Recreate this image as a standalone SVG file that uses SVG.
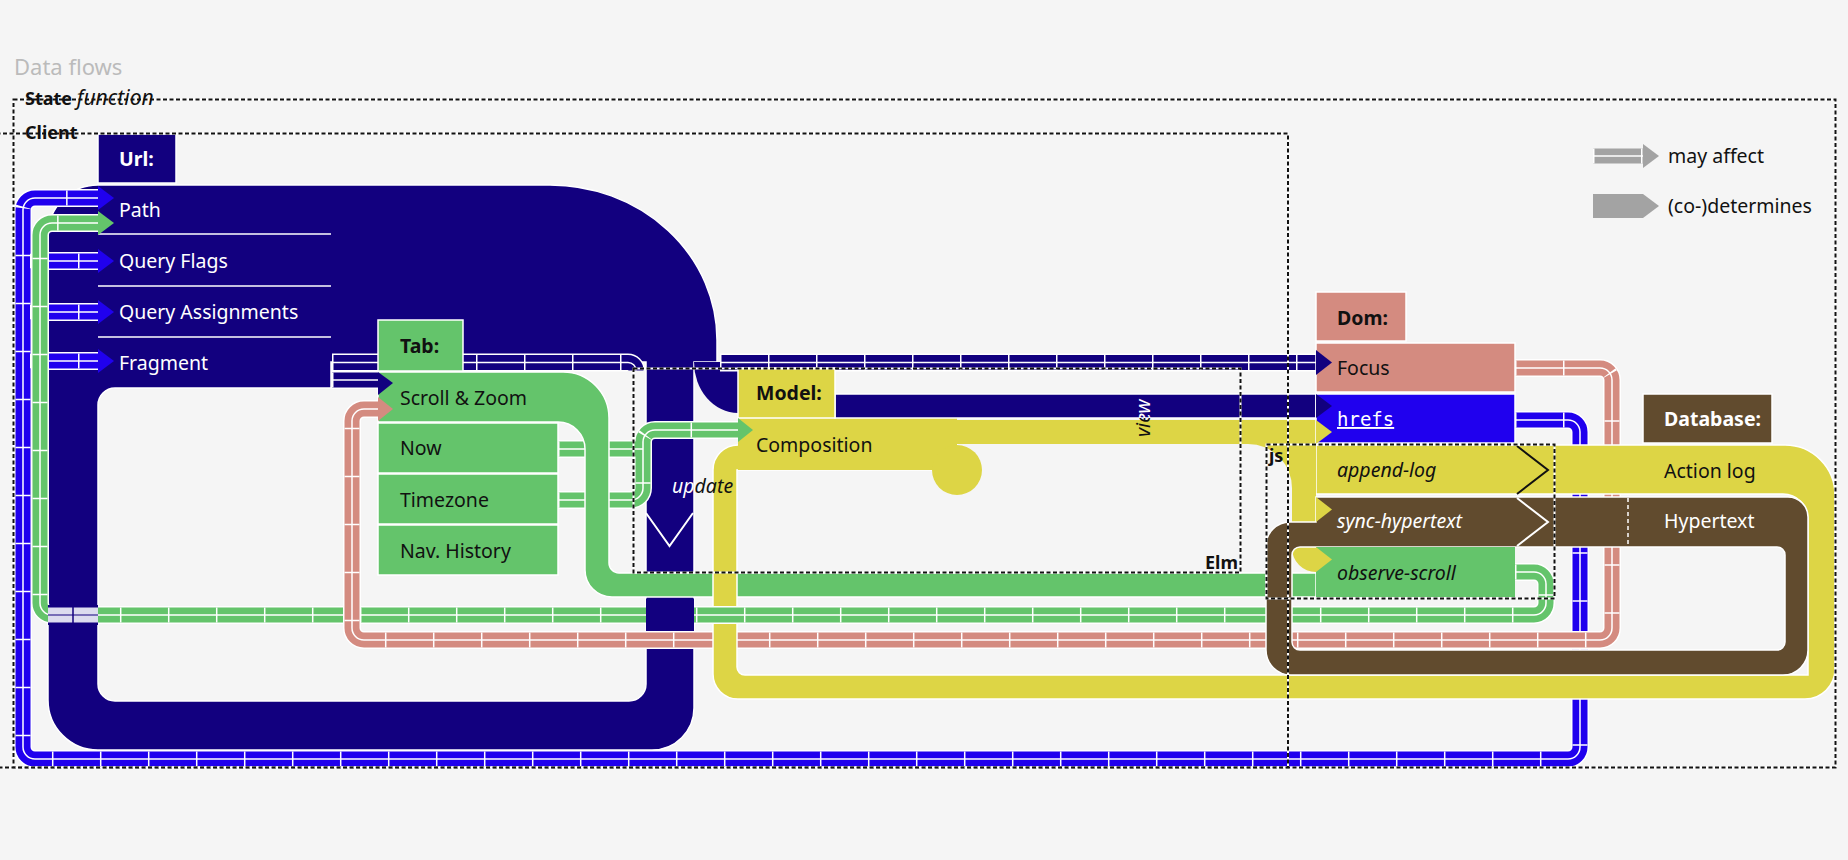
<svg xmlns="http://www.w3.org/2000/svg" width="1848" height="860" viewBox="0 0 1848 860">
<defs>
<style>
text{font-family:"Noto Sans","DejaVu Sans",sans-serif;font-size:19.5px;fill:#111}
.w{fill:#fff}
.b{font-weight:700}
.i{font-style:italic}
.lab{font-size:18px}
.mono{font-family:"DejaVu Sans Mono","Liberation Mono",monospace;font-size:19px;text-decoration:underline}
.nv{fill:#12007f}
.bl{fill:#2000ee}
.gr{fill:#64c46b}
.sa{fill:#d48b80}
.ye{fill:#ddd545}
.br{fill:#614b2e}
.gy{fill:#a3a3a3}
.ow{stroke:#fff;stroke-width:1.5}
.o{fill:none;stroke:#fff;stroke-width:18}
.s{fill:none;stroke-width:15}
.c{fill:none;stroke:#fff;stroke-width:1.5}
.t{fill:none;stroke:#fff;stroke-width:15;stroke-dasharray:1.5 46.5}
.snv{stroke:#12007f}.sbl{stroke:#2000ee}.sgr{stroke:#64c46b}.ssa{stroke:#d48b80}.sgy{stroke:#a3a3a3}
.dw{fill:none;stroke:#fff;stroke-width:2}
.dk{fill:none;stroke:#111;stroke-width:2;stroke-dasharray:4 2.5}
.sep{stroke:#fff;stroke-width:1.5}
</style>
<path id="pBl" d="M1515 420H1568A12 12 0 0 1 1580 432V747A12 12 0 0 1 1568 759H35A12 12 0 0 1 23 747V210A12 12 0 0 1 35 198H98"/>
<path id="pBl2" d="M30 261H98M30 312H98M30 361H98"/>
<path id="pGr" d="M1515 572H1534A12 12 0 0 1 1546 584V603A12 12 0 0 1 1534 615H52A12 12 0 0 1 40 603V235A12 12 0 0 1 52 223H98"/>
<path id="pGr2" d="M558 500H631A12 12 0 0 0 643 488V442A12 12 0 0 1 655 430H738M558 449H643"/>
<path id="pSa" d="M1515 368H1600A12 12 0 0 1 1612 380V628A12 12 0 0 1 1600 640H364A12 12 0 0 1 352 628V421A12 12 0 0 1 364 409H378"/>
<path id="pNv" d="M332 380H378M332 362.5H628A8 8 0 0 1 636 370.5M720 362.5H1316"/>
<path id="pGp" d="M709 615H741"/>
<path id="pLg" d="M1593 156H1643"/>
<clipPath id="cUw"><rect x="640" y="460" width="54" height="50"/></clipPath>
<clipPath id="cUk"><rect x="694" y="460" width="80" height="50"/></clipPath>
<clipPath id="cVw"><rect x="1120" y="380" width="50" height="38"/></clipPath>
<clipPath id="cVk"><rect x="1120" y="418" width="50" height="40"/></clipPath>
</defs>
<rect width="1848" height="860" fill="#f5f5f5"/>
<text x="14" y="75" style="font-size:22px;fill:#bbb">Data flows</text>

<g id="url-body">
<path class="nv ow" fill-rule="evenodd" d="M98 185H550A167 155 0 0 1 717 340V362H694V708A42 42 0 0 1 652 750H98A50 50 0 0 1 48 700V235A50 50 0 0 1 98 185Z M115 388H331V362H646V684A17 17 0 0 1 629 701H115A17 17 0 0 1 98 684V405A17 17 0 0 1 115 388Z"/>
<path class="nv" d="M694 362A44 51 0 0 0 738 413V362Z"/>
</g>

<g id="connectors">
<use href="#pBl" class="o"/><use href="#pBl2" class="o"/>
<use href="#pBl" class="s sbl"/><use href="#pBl2" class="s sbl"/>
<use href="#pBl" class="c"/><use href="#pBl2" class="c"/>
<use href="#pBl" class="t"/><use href="#pBl2" class="t"/>

<use href="#pGr2" class="o"/><use href="#pGr2" class="s sgr"/><use href="#pGr2" class="c"/><use href="#pGr2" class="t"/>

<path class="gr ow" d="M378 372H563A46 46 0 0 1 609 418V563A10 10 0 0 0 619 573H1316V597H612A27 27 0 0 1 585 570V449A27 27 0 0 0 558 422H378Z"/>

<use href="#pGr" class="o"/><use href="#pGr" class="s sgr"/><use href="#pGr" class="c"/><use href="#pGr" class="t"/>

<rect class="nv" x="646" y="598.5" width="48" height="33"/>
<rect class="nv" x="48" y="605" width="50" height="20"/>
<rect x="48" y="607.5" width="50" height="7" fill="#dcdcef"/>
<rect x="48" y="615.5" width="50" height="7" fill="#dcdcef"/>
<line x1="73" y1="607" x2="73" y2="623" stroke="#12007f" stroke-width="1.5"/>

<use href="#pSa" class="o"/><use href="#pSa" class="s ssa"/><use href="#pSa" class="c"/><use href="#pSa" class="t"/>

<use href="#pNv" class="o"/><use href="#pNv" class="s snv"/><use href="#pNv" class="c"/><use href="#pNv" class="t"/>

<path class="ye ow" d="M957 445H738A25 25 0 0 0 713 470V674A25 25 0 0 0 738 699H1805A30 30 0 0 0 1835 669V495A50 50 0 0 0 1785 445H1316V494H1783A25 25 0 0 1 1808 519V675H745A8 8 0 0 1 737 667V470H957Z"/>
<rect class="ye" x="738" y="418" width="219" height="52"/>
<circle class="ye" cx="957" cy="470" r="25"/>
<rect class="ye" x="738" y="420" width="578" height="24"/>
<path class="ye" d="M1248 444H1316V572A24 24 0 0 1 1292 548V488A44 44 0 0 0 1248 444Z"/>
<rect class="nv ow" x="835" y="394" width="481" height="24"/>

<use href="#pGp" class="o"/><use href="#pGp" class="s sgr"/><use href="#pGp" class="c"/>

<path class="br ow" fill-rule="evenodd" d="M1316 497H1788A20 20 0 0 1 1808 517V650A25 25 0 0 1 1783 675H1291A25 25 0 0 1 1266 650V546A24 24 0 0 1 1290 522H1316Z M1300 547H1777A8 8 0 0 1 1785 555V642A8 8 0 0 1 1777 650H1300A8 8 0 0 1 1292 642V555A8 8 0 0 1 1300 547Z"/>
</g>

<g id="url">
<rect class="nv ow" x="98" y="134" width="78" height="49"/>
<text class="b w" x="119" y="166">Url:</text>
<line class="sep" x1="98" y1="234" x2="331" y2="234"/>
<line class="sep" x1="98" y1="286" x2="331" y2="286"/>
<line class="sep" x1="98" y1="337" x2="331" y2="337"/>
<text class="w" x="119" y="217">Path</text>
<text class="w" x="119" y="268">Query Flags</text>
<text class="w" x="119" y="319">Query Assignments</text>
<text class="w" x="119" y="370">Fragment</text>
</g>

<g id="tab">
<rect class="gr ow" x="378" y="320" width="85" height="51"/>
<text class="b" x="400" y="353">Tab:</text>
<text x="400" y="405">Scroll &amp; Zoom</text>
<rect class="gr ow" x="378" y="423" width="180" height="50"/>
<text x="400" y="455">Now</text>
<rect class="gr ow" x="378" y="474" width="180" height="50"/>
<text x="400" y="507">Timezone</text>
<rect class="gr ow" x="378" y="525" width="180" height="50"/>
<text x="400" y="558">Nav. History</text>
</g>

<g id="model">
<rect class="ye ow" x="738" y="368" width="97" height="50"/>
<text class="b" x="756" y="400">Model:</text>
<text x="756" y="452">Composition</text>
</g>

<g id="dom">
<rect class="sa ow" x="1316" y="292" width="90" height="49"/>
<text class="b" x="1337" y="325">Dom:</text>
<rect class="sa ow" x="1316" y="343" width="199" height="49"/>
<text x="1337" y="375">Focus</text>
<rect class="bl ow" x="1316" y="394" width="199" height="49"/>
<text class="mono w" x="1337" y="426">hrefs</text>
</g>

<g id="js">
<rect class="gr" x="1316" y="547" width="199" height="50"/>
<text class="i" x="1337" y="477">append-log</text>
<text class="i w" x="1337" y="528">sync-hypertext</text>
<text class="i" x="1337" y="580">observe-scroll</text>
<polyline points="1517,446 1548,470 1517,494" fill="none" stroke="#111" stroke-width="2"/>
<polyline points="1517,498 1548,522 1517,546" fill="none" stroke="#fff" stroke-width="2"/>
</g>

<g id="database">
<rect class="br ow" x="1643" y="394" width="129" height="49"/>
<text class="b w" x="1664" y="426">Database:</text>
<text x="1664" y="478">Action log</text>
<text class="w" x="1664" y="528">Hypertext</text>
<line x1="1628" y1="498" x2="1628" y2="546" stroke="#fff" stroke-width="1.5" stroke-dasharray="4 3"/>
</g>

<g id="arrowheads">
<polygon class="bl" points="98,186 114,198 98,210"/>
<polygon class="bl" points="98,249 114,261 98,273"/>
<polygon class="bl" points="98,300 114,312 98,324"/>
<polygon class="bl" points="98,349 114,361 98,373"/>
<polygon class="gr" points="98,211 114,223 98,235"/>
<polygon class="gr" points="738,418 753,430 738,442"/>
<polygon class="sa" points="378,397 393,409 378,421"/>
<polygon class="nv" points="378,372 393,383 378,395"/>
<polygon class="nv" points="1316,350 1332,362.5 1316,375"/>
<polygon class="nv" points="1316,394 1332,406 1316,418"/>
<polygon class="ye" points="1316,420 1332,432 1316,444"/>
<polygon class="ye" points="1316,497 1332,509.5 1316,522"/>
<polygon class="ye" points="1316,547 1332,559.5 1316,572"/>
</g>

<g id="labels">
<polyline points="646,513 669.5,546 693,513" fill="none" stroke="#fff" stroke-width="2"/>
<g clip-path="url(#cUw)"><text class="i w" x="672" y="493">update</text></g>
<g clip-path="url(#cUk)"><text class="i" x="672" y="493">update</text></g>
<g clip-path="url(#cVw)"><text class="i w" transform="translate(1150 437) rotate(-90)">view</text></g>
<g clip-path="url(#cVk)"><text class="i" transform="translate(1150 437) rotate(-90)">view</text></g>
</g>

<g id="boundaries">
<rect class="dw" x="13.5" y="99.5" width="1822" height="668"/>
<rect class="dk" x="13.5" y="99.5" width="1822" height="668"/>
<rect class="dw" x="-10" y="133.5" width="1298" height="634"/>
<rect class="dk" x="-10" y="133.5" width="1298" height="634"/>
<rect class="dw" x="633.5" y="368.5" width="607" height="204"/>
<rect class="dk" x="633.5" y="368.5" width="607" height="204"/>
<rect class="dw" x="1266.5" y="444.5" width="288" height="154"/>
<rect class="dk" x="1266.5" y="444.5" width="288" height="154"/>
<text class="lab" x="25" y="105"><tspan class="b">State</tspan> <tspan class="i" style="font-size:21px">function</tspan></text>
<text class="lab b" x="25" y="139">Client</text>
<text class="lab b" x="1238" y="569" text-anchor="end">Elm</text>
<text class="lab b" x="1269" y="462">js</text>
</g>

<g id="legend">
<use href="#pLg" class="s sgy"/><use href="#pLg" class="c"/><use href="#pLg" class="t"/>
<polygon class="gy" points="1643,144 1659,156 1643,168"/>
<text x="1668" y="163">may affect</text>
<polygon class="gy" points="1593,194 1643,194 1659,206 1643,218 1593,218"/>
<text x="1668" y="213">(co-)determines</text>
</g>
</svg>
